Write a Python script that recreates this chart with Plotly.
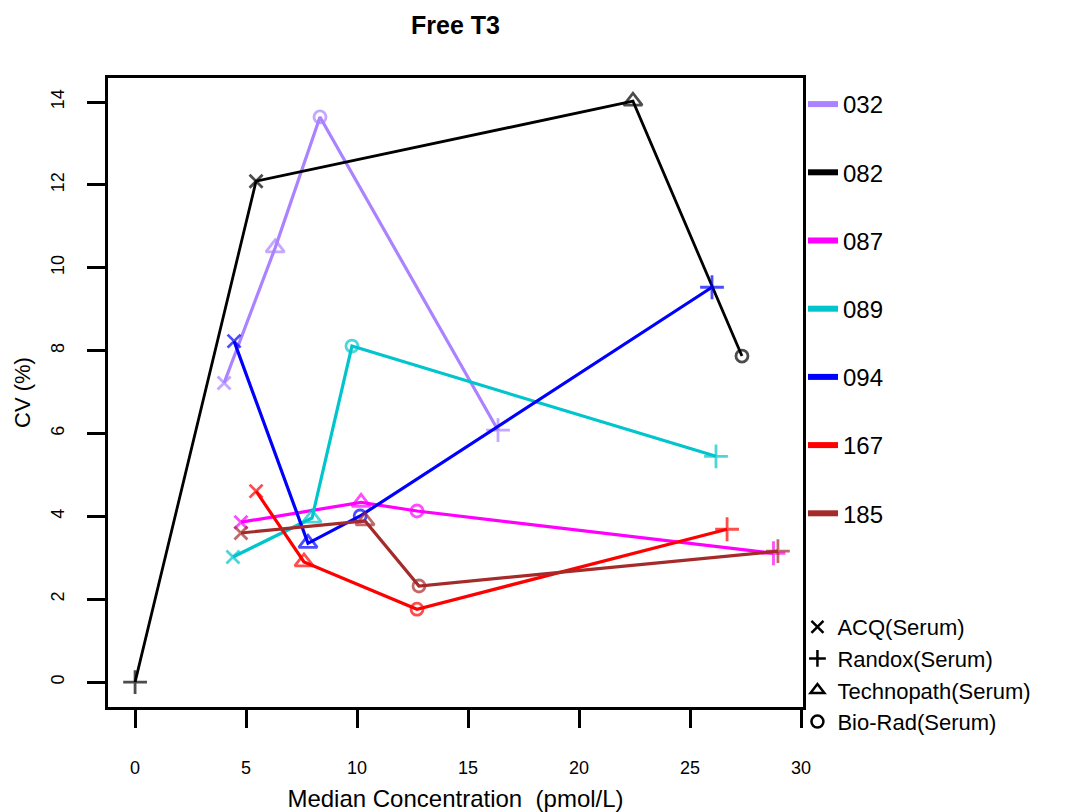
import plotly.graph_objects as go

# ---------------- data ----------------
manufacturers = ["ACQ(Serum)", "Randox(Serum)", "Technopath(Serum)", "Bio-Rad(Serum)"]
labs = ["032", "082", "087", "089", "094", "167", "185"]

# values per lab, in manufacturer order: ACQ, Randox, Technopath, Bio-Rad
median_032 = [4.01, 16.35, 6.31, 8.33]
cv_032 = [7.22, 6.08, 10.48, 13.64]
median_082 = [5.45, 0.0, 22.43, 27.34]
cv_082 = [12.09, 0.0, 14.02, 7.87]
median_087 = [4.77, 28.76, 10.18, 12.70]
cv_087 = [3.86, 3.11, 4.34, 4.13]
median_089 = [4.41, 26.17, 7.97, 9.77]
cv_089 = [3.02, 5.45, 3.96, 8.11]
median_094 = [4.46, 25.99, 7.79, 10.14]
cv_094 = [8.23, 9.53, 3.35, 4.01]
median_167 = [5.45, 26.67, 7.61, 12.70]
cv_167 = [4.61, 3.69, 2.90, 1.76]
median_185 = [4.77, 28.96, 10.36, 12.79]
cv_185 = [3.60, 3.16, 3.89, 2.32]

x_ticks = [0, 5, 10, 15, 20, 25, 30]
y_ticks = [0, 2, 4, 6, 8, 10, 12, 14]

# ---------------- styles ----------------
colors = {
    "032": "#AB82FF",
    "082": "#000000",
    "087": "#FF00FF",
    "089": "#00C5CD",
    "094": "#0000FF",
    "167": "#FF0000",
    "185": "#A52A2A",
}
symbols = {
    "ACQ(Serum)": "x-thin-open",
    "Randox(Serum)": "cross-thin-open",
    "Technopath(Serum)": "triangle-up-open",
    "Bio-Rad(Serum)": "circle-open",
}
sizes = {
    "ACQ(Serum)": 13,
    "Randox(Serum)": 17,
    "Technopath(Serum)": 16,
    "Bio-Rad(Serum)": 12,
}

series = {
    "032": (median_032, cv_032),
    "082": (median_082, cv_082),
    "087": (median_087, cv_087),
    "089": (median_089, cv_089),
    "094": (median_094, cv_094),
    "167": (median_167, cv_167),
    "185": (median_185, cv_185),
}

FONT = "Liberation Sans, Arial, sans-serif"

# page is rendered with an 8px body margin; figure sized to fit the window
W, H = 1058, 804
L, R, T, B = 100, 263, 70, 105
PH = H - T - B

fig = go.Figure()

for lab in labs:
    xs, ys = series[lab]
    order = sorted(range(len(xs)), key=lambda i: xs[i])
    fig.add_trace(go.Scatter(
        x=[xs[i] for i in order],
        y=[ys[i] for i in order],
        mode="lines+markers",
        line=dict(color=colors[lab], width=3.2 if lab != "082" else 2.8),
        marker=dict(
            symbol=[symbols[manufacturers[i]] for i in order],
            size=[sizes[manufacturers[i]] for i in order],
            color=colors[lab],
            line=dict(color=colors[lab], width=2.8),
        ),
        name=lab,
        showlegend=False,
        hovertext=[manufacturers[i] for i in order],
    ))

# legend 1: lab line swatches
for lab in labs:
    fig.add_trace(go.Scatter(
        x=[None], y=[None], mode="lines",
        line=dict(color=colors[lab], width=6),
        name=lab, legend="legend", legendgroup="L" + lab,
    ))

# legend 2: manufacturer symbols
for m in manufacturers:
    fig.add_trace(go.Scatter(
        x=[None], y=[None], mode="markers",
        marker=dict(symbol=symbols[m], size=12, color="black",
                    line=dict(color="black", width=2.5)),
        name=m, legend="legend2",
    ))

axis_common = dict(
    showline=True, linecolor="black", linewidth=3, mirror=True,
    ticks="outside", ticklen=18, tickwidth=3, tickcolor="black",
    showgrid=False, zeroline=False, automargin=False,
)

fig.update_layout(
    width=W, height=H,
    margin=dict(l=L, r=R, t=T, b=B),
    paper_bgcolor="white", plot_bgcolor="white",
    font=dict(family=FONT, color="black"),
    title=dict(text="<b>Free T3</b>", x=(L + (W - R)) / 2 / W, xanchor="center",
               y=1 - 17 / H, yanchor="middle", font=dict(size=25, color="black")),
    xaxis=dict(
        range=[-1.22, 30.09], tickvals=x_ticks, ticktext=[str(v) for v in x_ticks],
        tickfont=dict(size=18), ticklabelstandoff=24,
        title=dict(text="Median Concentration  (pmol/L)", font=dict(size=24), standoff=14),
        **axis_common,
    ),
    yaxis=dict(
        range=[-0.60, 14.58], tickvals=y_ticks, ticktext=[str(v) for v in y_ticks],
        tickfont=dict(size=18), tickangle=-90, ticklabelstandoff=16,
        title=dict(text="CV (%)", font=dict(size=22), standoff=12),
        **axis_common,
    ),
    legend=dict(
        x=1.0, xanchor="left", y=(H - B - 74) / PH, yanchor="top",
        font=dict(size=24), tracegroupgap=34, itemwidth=30,
        bgcolor="rgba(0,0,0,0)", borderwidth=0,
    ),
    legend2=dict(
        x=0.992, xanchor="left", y=(H - B - 598) / PH, yanchor="top",
        font=dict(size=22), tracegroupgap=0, itemwidth=30,
        bgcolor="rgba(0,0,0,0)", borderwidth=0,
    ),
)

fig.write_html("out.html")
